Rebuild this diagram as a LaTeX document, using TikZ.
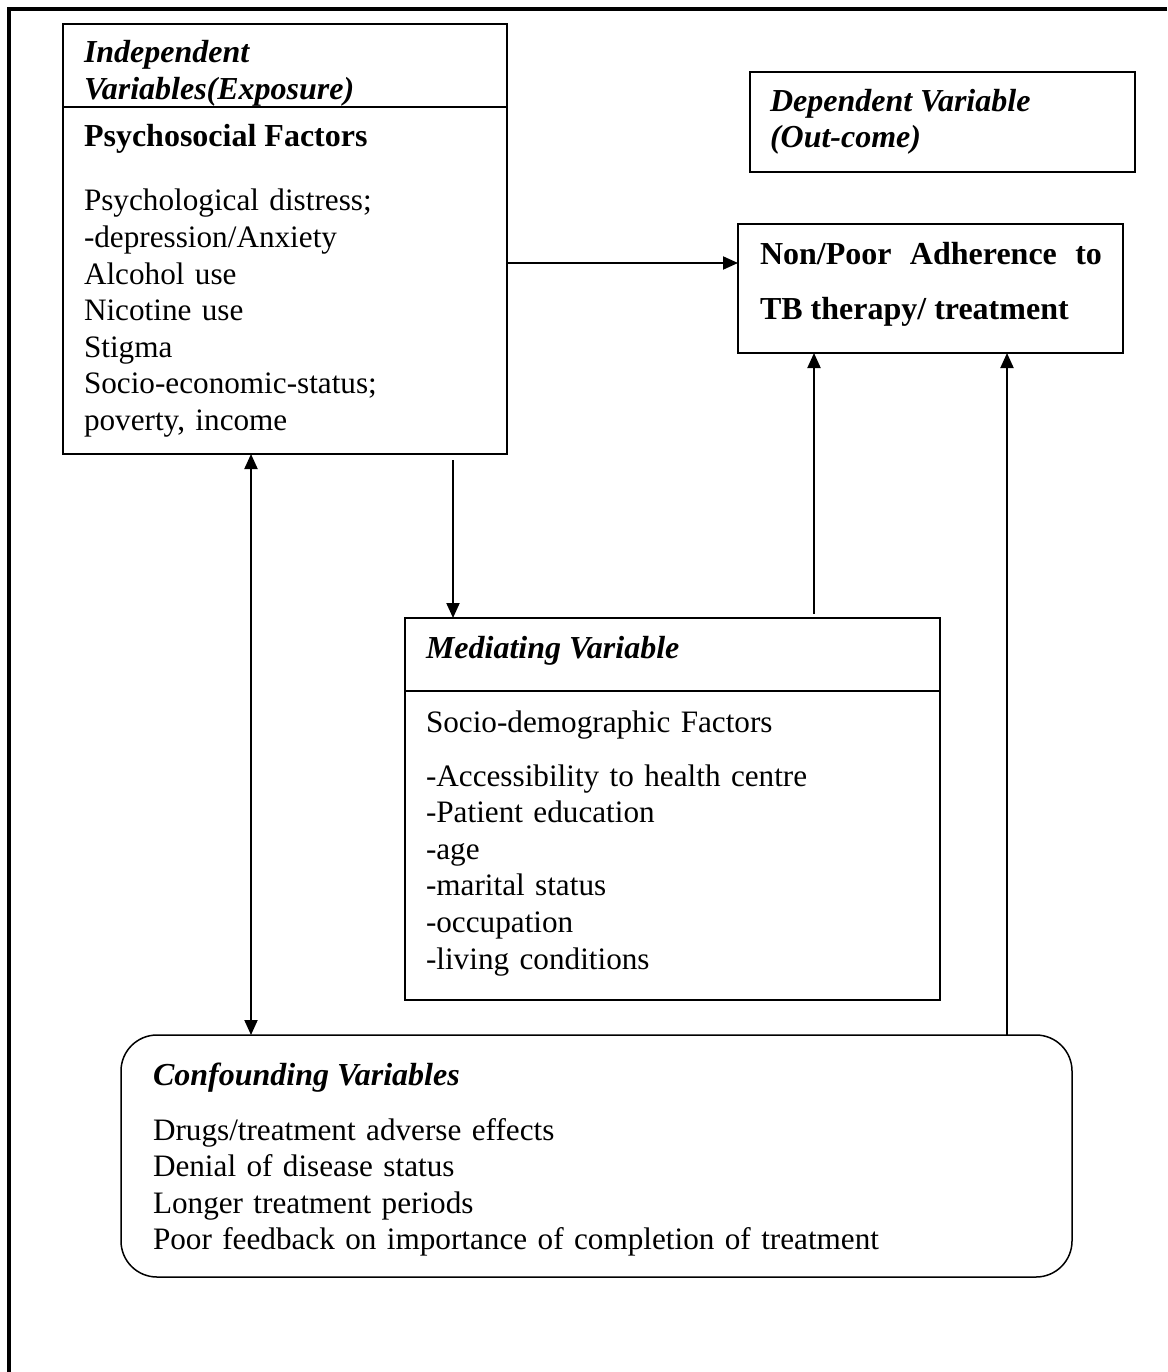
\documentclass[tikz,border=0pt]{standalone}
\usepackage{fontspec}
\setmainfont{Liberation Serif}
\usetikzlibrary{arrows.meta}
\begin{document}
\begin{tikzpicture}[x=1pt,y=-1pt,
  box/.style={draw, line width=2pt, inner sep=0pt, outer sep=0pt, anchor=north west},
  txt/.style={inner sep=0pt, outer sep=0pt, anchor=base west, align=left, font=\fontsize{32}{36.6}\selectfont},
  body/.style={txt, font=\fontsize{31.2}{36.6}\selectfont},
  arr/.style={line width=2pt, -{Triangle[length=15pt,width=13pt]}},
  darr/.style={line width=2pt, {Triangle[length=15pt,width=13pt]}-{Triangle[length=15pt,width=13pt]}}]
\useasboundingbox (0,0) rectangle (1167,1372);
% outer frame (cropped)
\draw[line width=4pt] (1167,9) -- (9,9) -- (9,1372);

% Independent variables box
\node[box, minimum width=444pt, minimum height=430pt] (ind) at (63,24) {};
\node[txt] (indt1) at (84,63) {\bfseries\itshape Independent};
\node[txt] (indt2) at (84,100) {\bfseries\itshape Variables(Exposure)};
\coordinate (d1) at (0,107);
\draw[line width=2pt] (ind.west |- d1) -- (ind.east |- d1);
\node[txt] (psyt) at (84,147) {\bfseries Psychosocial Factors};
\node[body, text width=410pt] (psyb) at (84,211) {Psychological distress;\\ -depression/Anxiety\\ Alcohol use\\ Nicotine use\\ Stigma\\ Socio-economic-status;\\ poverty, income};

% Dependent variable box
\node[box, minimum width=385pt, minimum height=100pt] (dep) at (750,72) {};
\node[txt] (dept1) at (770,112) {\bfseries\itshape Dependent Variable};
\node[txt] (dept2) at (770,148) {\bfseries\itshape (Out-come)};

% Outcome box
\node[box, minimum width=385pt, minimum height=129pt] (out) at (738,224) {};
\node[txt] (outt1) at (760,265) {\makebox[342pt][s]{\bfseries Non/Poor Adherence to}};
\node[txt] (outt2) at (760,319) {\bfseries TB therapy/ treatment};

% Mediating variable box
\node[box, minimum width=535pt, minimum height=382pt] (med) at (405,618) {};
\node[txt] (medt) at (426,658) {\bfseries\itshape Mediating Variable};
\coordinate (d2) at (0,691);
\draw[line width=2pt] (med.west |- d2) -- (med.east |- d2);
\node[body, text width=500pt] (medb) at (426,732) {Socio-demographic Factors\\[17.5pt] -Accessibility to health centre\\ -Patient education\\ -age\\ -marital status\\ -occupation\\ -living conditions};

% Confounding variables box
\node[box, line width=1.5pt, rounded corners=36pt, minimum width=951pt, minimum height=242pt] (conf) at (121,1035) {};
\node[txt] (conft) at (153,1085) {\bfseries\itshape Confounding Variables};
\node[body, text width=900pt] (confb) at (153,1140) {Drugs/treatment adverse effects\\ Denial of disease status\\ Longer treatment periods\\ Poor feedback on importance of completion of treatment};

% connectors
\coordinate (y1) at (0,263);
\draw[arr] (ind.east |- y1) -- (out.west |- y1);
\coordinate (s2) at (453,460);
\draw[arr] (s2) -- (s2 |- med.north);
\coordinate (x3) at (251,0);
\draw[darr] (x3 |- ind.south) -- (x3 |- conf.north);
\coordinate (s4) at (814,614);
\draw[arr] (s4) -- (s4 |- out.south);
\coordinate (x5) at (1007,0);
\draw[arr] (x5 |- conf.north) -- (x5 |- out.south);
\end{tikzpicture}
\end{document}
